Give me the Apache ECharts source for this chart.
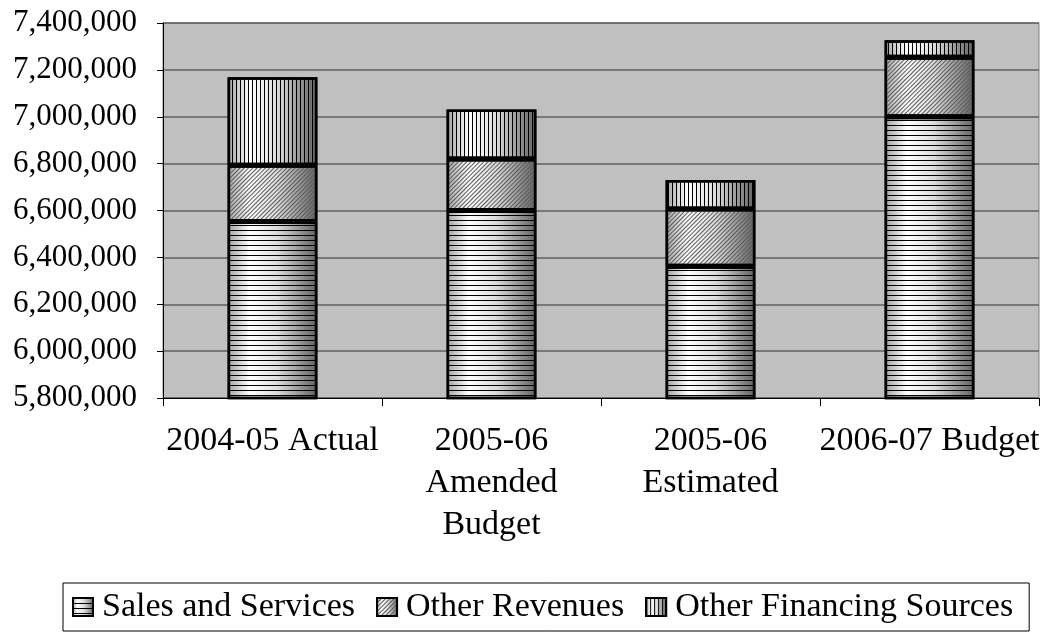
<!DOCTYPE html>
<html>
<head>
<meta charset="utf-8">
<script src="https://cdn.jsdelivr.net/npm/echarts@6/dist/echarts.min.js"></script>
<style>
  html, body { margin: 0; padding: 0; background: #fff; }
  #chart { width: 1046px; height: 632px; }
</style>
</head>
<body>
<div id="chart"></div>
<script>
const categories = ['2004-05 Actual', '2005-06\nAmended\nBudget', '2005-06\nEstimated', '2006-07 Budget']
const salesAndServices = [6553000, 6600000, 6362000, 7000000]
const otherRevenues = [240000, 220000, 244000, 254000]
const otherFinancing = [376000, 211000, 124000, 72000]
const yMin = 5800000
const yMax = 7400000
const yStep = 200000

const font = '"Liberation Serif", "DejaVu Serif", serif'

// cylinder-like shading used under every pattern
const shade = new echarts.graphic.LinearGradient(0, 0, 1, 0, [
  { offset: 0, color: '#a0a0a0' },
  { offset: 0.25, color: '#ffffff' },
  { offset: 0.55, color: '#dcdcdc' },
  { offset: 1, color: '#606060' }
])

const barStyle = (decal) => ({
  color: shade,
  borderColor: '#000',
  borderWidth: 2.5,
  decal: decal
})

const chart = echarts.init(document.getElementById('chart'))

chart.setOption({
  animation: false,
  textStyle: { fontFamily: font },
  grid: {
    left: 163,
    right: 7,
    top: 23,
    bottom: 234,
    show: true,
    backgroundColor: '#c0c0c0',
    borderColor: '#808080',
    borderWidth: 1
  },
  legend: {
    bottom: 1,
    left: 63,
    icon: 'rect',
    itemWidth: 20,
    itemHeight: 18,
    itemGap: 21,
    padding: [7, 16, 7, 9],
    borderColor: '#000',
    borderWidth: 1,
    textStyle: { fontFamily: font, fontSize: 34, color: '#000', padding: [0, 0, 0, 4] }
  },
  xAxis: {
    type: 'category',
    data: categories,
    axisLine: { lineStyle: { color: '#000', width: 1 } },
    axisTick: { show: true, length: 8, lineStyle: { color: '#000' } },
    axisLabel: {
      color: '#000',
      fontFamily: font,
      fontSize: 34,
      lineHeight: 42,
      margin: 22,
      interval: 0
    }
  },
  yAxis: {
    type: 'value',
    min: yMin,
    max: yMax,
    interval: yStep,
    axisLine: { show: true, lineStyle: { color: '#000', width: 1 } },
    axisTick: { show: true, length: 6, lineStyle: { color: '#000' } },
    axisLabel: {
      color: '#000',
      fontFamily: font,
      fontSize: 31,
      margin: 26,
      formatter: (v) => v.toLocaleString('en-US')
    },
    splitLine: { lineStyle: { color: '#606060', width: 1.5 } }
  },
  series: [
    {
      name: 'Sales and Services',
      type: 'bar',
      stack: 'total',
      barWidth: '41%',
      data: salesAndServices,
      itemStyle: barStyle({
        symbol: 'rect', symbolSize: 1, color: '#000',
        dashArrayX: [[4, 0]], dashArrayY: [1, 4]
      })
    },
    {
      name: 'Other Revenues',
      type: 'bar',
      stack: 'total',
      data: otherRevenues,
      itemStyle: barStyle({
        symbol: 'rect', symbolSize: 1, color: '#5a5a5a',
        dashArrayX: [[4, 0]], dashArrayY: [1, 2], rotation: -Math.PI / 4
      })
    },
    {
      name: 'Other Financing Sources',
      type: 'bar',
      stack: 'total',
      data: otherFinancing,
      itemStyle: barStyle({
        symbol: 'rect', symbolSize: 1, color: '#000',
        dashArrayX: [[1, 3]], dashArrayY: [4, 0]
      })
    }
  ]
})

window.addEventListener('resize', () => chart.resize())
</script>
</body>
</html>
